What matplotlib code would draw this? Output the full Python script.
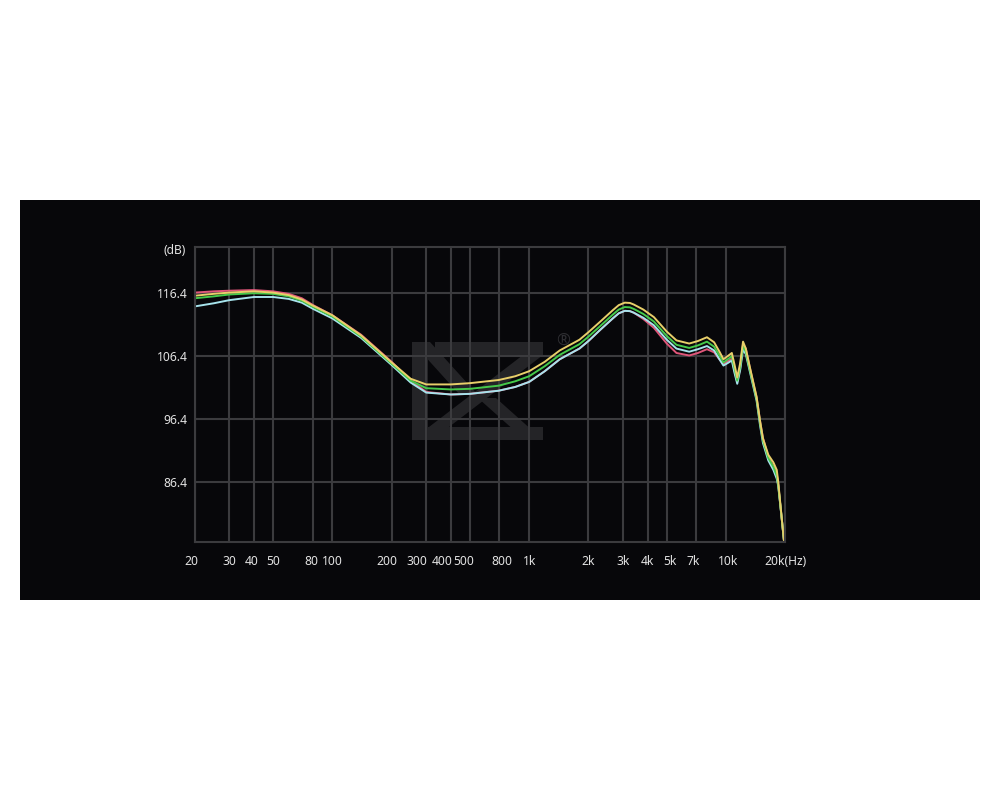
import matplotlib
matplotlib.use("Agg")
import matplotlib.pyplot as plt
from matplotlib.patches import Rectangle, Polygon
from matplotlib.transforms import ScaledTranslation

plt.rcParams['font.family'] = ['Noto Sans', 'DejaVu Sans']

# ---------------- data ----------------
freq = [20, 25, 30, 40, 50, 60, 70, 80, 100, 140, 200, 250, 300, 400, 500, 700, 850,
        1000, 1200, 1430, 1800, 2000, 2300, 2660, 2850, 3060, 3250, 3400, 3800, 4300, 5000, 5600,
        6500, 7200, 8000, 8700, 9300, 9700, 10200, 10700, 11050, 11400, 11800, 12200,
        12600, 13200, 14300, 14900, 15400, 16400, 17400, 18100, 18400, 19000, 19700, 20000]

yellow = [116.0, 116.3, 116.5, 116.7, 116.5, 116.1, 115.4, 114.4, 112.9, 109.7, 105.4, 102.8,
          101.9, 101.9, 102.1, 102.6, 103.2, 104.0, 105.5, 107.3, 109.0, 110.2, 111.9, 113.7,
          114.5, 114.9, 114.85, 114.6, 113.8, 112.6, 110.3, 108.9, 108.4, 108.8, 109.4, 108.6, 107.0, 105.9,
          106.4, 106.9, 105.0, 103.0, 105.3, 108.7, 107.6, 104.7, 99.9, 96.0, 93.3, 90.7,
          89.5, 88.3, 86.5, 82.0, 77.0, 75.5]

green = [115.6, 115.9, 116.2, 116.4, 116.3, 115.9, 115.2, 114.2, 112.7, 109.5, 105.2, 102.5,
         101.3, 101.1, 101.2, 101.7, 102.4, 103.2, 104.8, 106.6, 108.3, 109.5, 111.2, 113.0,
         113.8, 114.2, 114.15, 113.9, 113.1, 111.9, 109.6, 108.2, 107.7, 108.1, 108.7, 107.9, 106.4, 105.4,
         105.9, 106.4, 104.4, 102.5, 104.8, 108.1, 107.1, 104.3, 99.6, 95.7, 93.0, 90.2,
         88.8, 87.4, 86.0, 81.8, 77.0, 75.5]

cyan = [114.3, 114.8, 115.3, 115.8, 115.8, 115.5, 114.9, 113.9, 112.4, 109.3, 105.0, 102.2,
        100.6, 100.3, 100.4, 100.9, 101.5, 102.3, 104.0, 105.9, 107.6, 108.8, 110.6, 112.4,
        113.2, 113.6, 113.55, 113.3, 112.5, 111.3, 109.0, 107.6, 107.1, 107.5, 108.0, 107.3, 105.8, 104.9,
        105.3, 105.7, 103.7, 102.0, 104.2, 107.5, 106.7, 104.0, 99.3, 95.3, 92.6, 89.8,
        88.3, 86.9, 85.8, 81.8, 77.0, 75.5]

red = [116.5, 116.7, 116.8, 116.9, 116.7, 116.3, 115.6, 114.5, 112.9, 109.8, 105.5, 102.5,
       100.7, 100.3, 100.4, 100.9, 101.5, 102.3, 104.0, 105.9, 107.6, 108.8, 110.6, 112.4,
       113.2, 113.6, 113.55, 113.3, 112.3, 110.9, 108.4, 106.9, 106.5, 106.9, 107.5, 107.0, 105.8, 105.2,
       105.6, 106.0, 104.0, 102.3, 104.5, 108.3, 107.6, 104.6, 99.8, 96.0, 93.4, 90.3,
       88.8, 87.6, 86.2, 81.8, 77.0, 75.5]

x_ticks = [20, 30, 40, 50, 80, 100, 200, 300, 400, 500, 700, 1000, 2000, 3000, 4000,
           5000, 7000, 10000, 20000]
x_labels = ["20", "30", "40", "50", "80", "100", "200", "300", "400", "500", "800",
            "1k", "2k", "3k", "4k", "5k", "7k", "10k", "20k(Hz)"]
y_ticks = [86.4, 96.4, 106.4, 116.4]
y_labels = ["86.4", "96.4", "106.4", "116.4"]

# ---------------- figure ----------------
W, H = 1000, 800
fig = plt.figure(figsize=(10, 8), dpi=100)
fig.patch.set_facecolor('white')

def px(x, y):
    return (x / W, 1 - y / H)

bg = Rectangle(px(20, 600), 960 / W, 400 / H, transform=fig.transFigure,
               facecolor='#07070a', edgecolor='none', zorder=-5)
fig.patches.append(bg)

ax = fig.add_axes([194.7 / W, 1 - 542.3 / H, (785.3 - 194.7) / W, (542.3 - 247.3) / H])
ax.set_facecolor('none')
ax.set_xscale('log')
ax.set_xlim(20, 20000)
ax.set_ylim(76.8, 123.7)

gridc = '#3b3b3e'
txtc = '#e2e2e2'
ax.set_xticks(x_ticks)
ax.set_xticklabels(x_labels)
ax.xaxis.set_minor_locator(matplotlib.ticker.NullLocator())
ax.set_yticks(y_ticks)
ax.set_yticklabels(y_labels)
ax.grid(True, which='major', color=gridc, linewidth=1.5)
ax.set_axisbelow(True)
for s in ax.spines.values():
    s.set_color(gridc)
    s.set_linewidth(1.5)
ax.tick_params(axis='both', length=0, colors=txtc, labelsize=8.7)
ax.tick_params(axis='x', pad=9.5)
ax.tick_params(axis='y', pad=5)

# small horizontal nudges of crowded tick labels (pixels), as in the reference
nudges = {"20": -3, "40": -2, "80": -2, "200": -5, "300": -9, "400": -9, "500": -6,
          "800": 3, "5k": 3, "7k": -2, "10k": 2}
for lbl in ax.get_xticklabels():
    dx = nudges.get(lbl.get_text(), 0)
    if dx:
        lbl.set_transform(lbl.get_transform() + ScaledTranslation(dx / 100, 0, fig.dpi_scale_trans))

# watermark (KZ logo) in figure pixel coordinates
wm = '#242427'
polys = [
    [(435, 342), (543, 342), (543, 355), (435, 355)],
    [(412, 342), (430, 342), (478, 395), (460, 395)],
    [(523, 355), (543, 355), (432, 440), (412, 440)],
    [(478, 398), (496, 398), (543, 440), (525, 440)],
    [(412, 427), (543, 427), (543, 440), (412, 440)],
    [(412, 342), (428, 342), (428, 440), (412, 440)],
]
for p in polys:
    ax.add_patch(Polygon([px(*q) for q in p], closed=True, transform=fig.transFigure,
                         facecolor=wm, edgecolor='none', zorder=0.3))
ax.text(*px(563, 341), '®', transform=fig.transFigure, color='#2e2e32', fontsize=12,
        ha='center', va='center', zorder=0.3)

# curves
ax.plot(freq, red, color='#e0567a', lw=1.4, zorder=1.9)
ax.plot(freq, cyan, color='#a6e3ec', lw=1.4, zorder=2)
ax.plot(freq, green, color='#45c94a', lw=1.4, zorder=2.1)
ax.plot(freq, yellow, color='#e8cf6a', lw=1.4, zorder=2.2)

fig.text(*px(186, 250), '(dB)', color=txtc, fontsize=8.7, ha='right', va='center')

fig.savefig('out.png', dpi=100, facecolor='white')
